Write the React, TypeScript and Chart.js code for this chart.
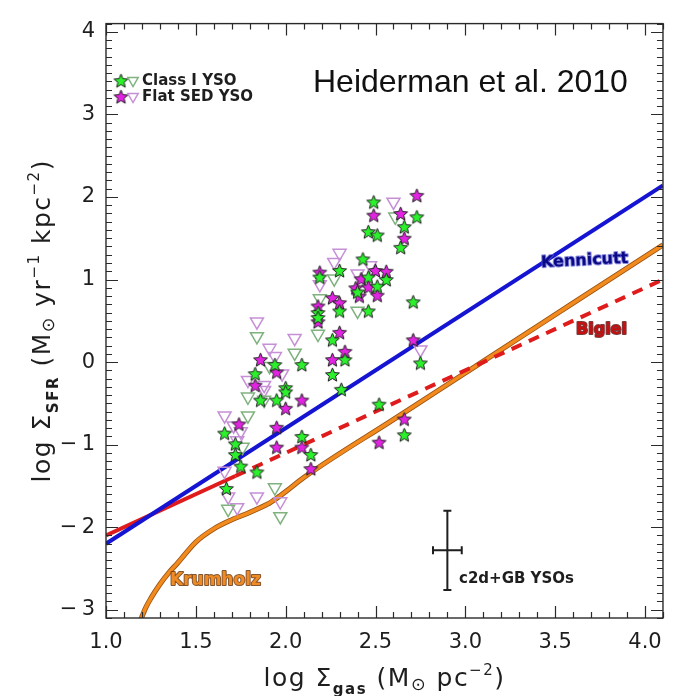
import React, { useEffect, useRef } from "react";
import { Chart, registerables } from "chart.js";

Chart.register(...registerables);

// ---------------- data ----------------
const classIStarX = [2.49, 2.46, 2.51, 2.43, 2.56, 2.46, 2.51, 2.40, 2.46, 2.19, 2.30, 2.30, 2.18, 2.18, 2.26, 1.94, 2.09, 2.33, 2.73, 2.66, 2.64, 2.71, 2.75, 1.83, 2.00, 2.00, 2.26, 2.31, 1.86, 1.95, 1.66, 1.72, 1.72, 1.75, 2.09, 2.14, 1.84, 1.67, 2.52, 2.66];
const classIStarY = [1.94, 1.58, 1.54, 1.25, 1.00, 1.03, 0.92, 0.85, 0.62, 1.03, 1.11, 0.62, 0.60, 0.54, 0.27, -0.03, -0.03, 0.03, 1.76, 1.64, 1.39, 0.73, -0.01, -0.14, -0.31, -0.36, -0.15, -0.33, -0.46, -0.46, -0.86, -0.99, -1.12, -1.26, -0.90, -1.12, -1.33, -1.53, -0.51, -0.88];

const classITriX = [2.61, 2.40, 2.27, 2.19, 2.18, 1.84, 2.05, 1.91, 1.79, 1.88, 1.79, 1.76, 1.94, 1.97, 1.68];
const classITriY = [1.76, 0.62, 1.01, 0.77, 0.34, 0.31, 0.11, -0.05, -0.42, -0.46, -0.65, -1.03, -1.52, -1.87, -1.78];

const flatStarX = [2.49, 2.50, 2.56, 2.42, 2.46, 2.39, 2.41, 2.51, 2.19, 2.26, 2.30, 2.18, 2.18, 2.30, 1.86, 2.26, 2.33, 2.73, 2.64, 2.66, 2.71, 1.83, 1.95, 2.00, 2.09, 1.74, 1.95, 1.95, 2.09, 2.14, 2.52, 2.66];
const flatStarY = [1.78, 1.11, 1.10, 1.01, 0.91, 0.90, 0.80, 0.81, 1.09, 0.78, 0.72, 0.68, 0.49, 0.36, 0.03, 0.03, 0.13, 2.02, 1.80, 1.50, 0.27, -0.28, -0.12, -0.56, -0.46, -0.75, -0.79, -1.03, -1.03, -1.29, -0.97, -0.69];

const flatTriX = [2.60, 2.30, 2.27, 2.47, 2.40, 2.19, 1.84, 2.05, 1.91, 1.94, 2.75, 1.79, 1.88, 1.88, 1.98, 1.66, 1.71, 1.75, 1.73, 1.66, 1.68, 1.84, 1.97, 1.73];
const flatTriY = [1.94, 1.32, 1.21, 1.17, 1.07, 0.94, 0.49, 0.29, 0.17, 0.07, 0.15, -0.22, -0.28, -0.34, -0.14, -0.65, -0.77, -0.84, -0.95, -1.32, -1.63, -1.63, -1.69, -1.76];

const kennicuttX = [1.0, 4.1];
const kennicuttY = [-2.2, 2.14];
const bigielSolidX = [1.0, 1.72];
const bigielSolidY = [-2.1, -1.38];
const bigielDashX = [1.72, 4.1];
const bigielDashY = [-1.38, 1.0];
const krumholzX = [1.19, 1.22, 1.25, 1.3, 1.35, 1.4, 1.5, 1.6, 1.7, 1.8, 1.9, 1.95, 2.0, 2.1, 2.6, 3.1, 3.6, 4.1];
const krumholzY = [-3.14, -2.98, -2.86, -2.69, -2.55, -2.43, -2.18, -2.02, -1.91, -1.82, -1.72, -1.65, -1.57, -1.40, -0.695, 0.01, 0.715, 1.42];

// representative error bar (c2d+GB YSOs)
const errBarX = 2.9;
const errBarY = -2.28;
const errBarDx = 0.08;
const errBarDy = 0.48;

const xRange = [1.0, 4.1];
const yRange = [-3.1, 4.1];

const zip = (xs: number[], ys: number[]) => xs.map((x, i) => ({ x, y: ys[i] }));

function makeStar(fill: string, R = 7.3) {
  const size = Math.ceil(R * 2 + 4);
  const c = document.createElement("canvas");
  c.width = size;
  c.height = size;
  const ctx = c.getContext("2d")!;
  const cx = size / 2;
  const cy = size / 2 + R * 0.1;
  ctx.beginPath();
  for (let i = 0; i < 10; i++) {
    const r = i % 2 === 0 ? R : R * 0.45;
    const a = -Math.PI / 2 + (i * Math.PI) / 5;
    ctx.lineTo(cx + r * Math.cos(a), cy + r * Math.sin(a));
  }
  ctx.closePath();
  ctx.fillStyle = fill;
  ctx.fill();
  ctx.lineWidth = 1;
  ctx.strokeStyle = "#1e1e1e";
  ctx.stroke();
  return c;
}

type Run = { t: string; size: number; dy?: number; bold?: boolean };
const FONT = "'DejaVu Sans', sans-serif";

function setFont(ctx: CanvasRenderingContext2D, r: Run) {
  ctx.font = `${r.bold ? "bold " : ""}${r.size}px ${FONT}`;
}
function runsWidth(ctx: CanvasRenderingContext2D, runs: Run[]) {
  let w = 0;
  for (const r of runs) {
    setFont(ctx, r);
    w += ctx.measureText(r.t).width;
  }
  return w;
}
function drawRuns(ctx: CanvasRenderingContext2D, runs: Run[], cx: number, baseline: number) {
  let x = cx - runsWidth(ctx, runs) / 2;
  ctx.textAlign = "left";
  ctx.textBaseline = "alphabetic";
  for (const r of runs) {
    setFont(ctx, r);
    ctx.fillText(r.t, x, baseline + (r.dy || 0));
    x += ctx.measureText(r.t).width;
  }
}
function outlined(ctx: CanvasRenderingContext2D, text: string, x: number, y: number, fill: string, stroke: string, lw: number) {
  ctx.lineJoin = "round";
  ctx.lineWidth = lw;
  ctx.strokeStyle = stroke;
  ctx.strokeText(text, x, y);
  ctx.fillStyle = fill;
  ctx.fillText(text, x, y);
}

export default function App() {
  const ref = useRef<HTMLCanvasElement>(null);

  useEffect(() => {
    document.body.style.margin = "0";
    const canvas = ref.current!;
    const greenStar = makeStar("#2cf02c");
    const magentaStar = makeStar("#e224e2");
    const greenTri = "#7fb27f";
    const pinkTri = "#c690d6";

    const overlay = {
      id: "overlay",
      afterDraw(chart: any) {
        const ctx: CanvasRenderingContext2D = chart.ctx;
        const xs = chart.scales.x;
        const ys = chart.scales.y;
        const { left, right, top, bottom } = chart.chartArea;
        ctx.save();

        // error bar
        const ex = xs.getPixelForValue(errBarX);
        const ey = ys.getPixelForValue(errBarY);
        const eyT = ys.getPixelForValue(errBarY + errBarDy);
        const eyB = ys.getPixelForValue(errBarY - errBarDy);
        const exL = xs.getPixelForValue(errBarX - errBarDx);
        const exR = xs.getPixelForValue(errBarX + errBarDx);
        ctx.strokeStyle = "#1e1e1e";
        ctx.lineWidth = 2;
        ctx.beginPath();
        ctx.moveTo(ex, eyT); ctx.lineTo(ex, eyB);
        ctx.moveTo(ex - 4, eyT); ctx.lineTo(ex + 4, eyT);
        ctx.moveTo(ex - 4, eyB); ctx.lineTo(ex + 4, eyB);
        ctx.moveTo(exL, ey); ctx.lineTo(exR, ey);
        ctx.moveTo(exL, ey - 4); ctx.lineTo(exL, ey + 4);
        ctx.moveTo(exR, ey - 4); ctx.lineTo(exR, ey + 4);
        ctx.stroke();

        // frame
        ctx.strokeStyle = "#2a2a2a";
        ctx.lineWidth = 1.4;
        ctx.strokeRect(left, top, right - left, bottom - top);
        ctx.lineWidth = 1.2;
        ctx.beginPath();
        for (let i = 0; i <= 31; i++) {
          const v = xRange[0] + i * 0.1;
          const px = Math.round(xs.getPixelForValue(v)) + 0.5;
          const L = i % 5 === 0 ? 12 : 6;
          ctx.moveTo(px, bottom); ctx.lineTo(px, bottom - L);
          ctx.moveTo(px, top); ctx.lineTo(px, top + L);
        }
        for (let i = 0; i <= 72; i++) {
          const v = yRange[0] + i * 0.1;
          const py = Math.round(ys.getPixelForValue(v)) + 0.5;
          const major = Math.round(v * 10) % 10 === 0;
          const L = major ? 12 : 6;
          ctx.moveTo(left, py); ctx.lineTo(left + L, py);
          ctx.moveTo(right, py); ctx.lineTo(right - L, py);
        }
        ctx.stroke();

        // axis titles
        ctx.fillStyle = "#1e1e1e";
        (ctx as any).letterSpacing = "1.5px";
        const F = 25;
        const xTitle: Run[] = [
          { t: "log Σ", size: F },
          { t: "gas", size: F * 0.6, dy: F * 0.3, bold: true },
          { t: " (M", size: F },
          { t: "⊙", size: F * 0.7, dy: F * 0.15 },
          { t: " pc", size: F },
          { t: "−2", size: F * 0.6, dy: -F * 0.45 },
          { t: ")", size: F },
        ];
        drawRuns(ctx, xTitle, (left + right) / 2, 686);
        const yTitle: Run[] = [
          { t: "log Σ", size: F },
          { t: "SFR", size: F * 0.6, dy: F * 0.3, bold: true },
          { t: " (M", size: F },
          { t: "⊙", size: F * 0.7, dy: F * 0.15 },
          { t: " yr", size: F },
          { t: "−1", size: F * 0.6, dy: -F * 0.45 },
          { t: " kpc", size: F },
          { t: "−2", size: F * 0.6, dy: -F * 0.45 },
          { t: ")", size: F },
        ];
        ctx.save();
        ctx.translate(50, (top + bottom) / 2);
        ctx.rotate(-Math.PI / 2);
        drawRuns(ctx, yTitle, 0, 0);
        ctx.restore();
        (ctx as any).letterSpacing = "0px";

        // legend
        const lx = left + 15;
        const ly1 = top + 57;
        const ly2 = top + 73;
        ctx.drawImage(greenStar, lx - greenStar.width / 2, ly1 - greenStar.height / 2);
        ctx.drawImage(magentaStar, lx - magentaStar.width / 2, ly2 - magentaStar.height / 2);
        const tri = (cx: number, cy: number, col: string) => {
          const r = 6;
          ctx.beginPath();
          ctx.moveTo(cx - r * 0.866, cy - r * 0.5);
          ctx.lineTo(cx + r * 0.866, cy - r * 0.5);
          ctx.lineTo(cx, cy + r);
          ctx.closePath();
          ctx.strokeStyle = col;
          ctx.lineWidth = 1.5;
          ctx.stroke();
        };
        tri(lx + 12, ly1, greenTri);
        tri(lx + 12, ly2, pinkTri);
        ctx.fillStyle = "#1e1e1e";
        ctx.font = `bold 15px ${FONT}`;
        ctx.textAlign = "left";
        ctx.textBaseline = "middle";
        ctx.fillText("Class I YSO", lx + 21, ly1 + 1);
        ctx.fillText("Flat SED YSO", lx + 21, ly2 + 1);

        // title text
        ctx.font = "32px 'Liberation Sans', Arial, sans-serif";
        ctx.fillStyle = "#111";
        ctx.textBaseline = "middle";
        ctx.fillText("Heiderman et al. 2010", 313, 83);

        // line labels
        ctx.font = `bold 16px ${FONT}`;
        ctx.textBaseline = "middle";
        ctx.save();
        ctx.translate(541, 263);
        ctx.rotate(-0.05);
        outlined(ctx, "Kennicutt", 0, 0, "#0a0a86", "rgba(90,90,210,0.7)", 2);
        ctx.restore();
        outlined(ctx, "Bigiel", 576, 330, "#c41010", "rgba(90,10,10,0.8)", 2);
        ctx.font = `bold 17px ${FONT}`;
        outlined(ctx, "Krumholz", 170, 581, "#f08a24", "rgba(110,55,10,0.85)", 2);

        ctx.font = `bold 15px ${FONT}`;
        ctx.fillStyle = "#1e1e1e";
        ctx.fillText("c2d+GB YSOs", 459, 579);

        ctx.restore();
      },
    };

    const chart = new Chart(canvas, {
      type: "scatter",
      data: {
        datasets: [
          { label: "Class I YSO", data: zip(classIStarX, classIStarY), pointStyle: greenStar as any, pointRadius: 7, order: 1 },
          { label: "Flat SED YSO", data: zip(flatStarX, flatStarY), pointStyle: magentaStar as any, pointRadius: 7, order: 1 },
          { label: "Class I YSO limits", data: zip(classITriX, classITriY), pointStyle: "triangle", pointRotation: 180, pointRadius: 7.5, borderColor: greenTri, backgroundColor: "rgba(0,0,0,0)", pointBorderWidth: 1.5, order: 2 },
          { label: "Flat SED YSO limits", data: zip(flatTriX, flatTriY), pointStyle: "triangle", pointRotation: 180, pointRadius: 7.5, borderColor: pinkTri, backgroundColor: "rgba(0,0,0,0)", pointBorderWidth: 1.5, order: 2 },
          { label: "Kennicutt", data: zip(kennicuttX, kennicuttY), showLine: true, pointRadius: 0, borderColor: "#1414d2", borderWidth: 4, order: 5 },
          { label: "Bigiel", data: zip(bigielSolidX, bigielSolidY), showLine: true, pointRadius: 0, borderColor: "#e01b1b", borderWidth: 4, order: 6 },
          { label: "Bigiel extrapolated", data: zip(bigielDashX, bigielDashY), showLine: true, pointRadius: 0, borderColor: "#e01b1b", borderWidth: 4, borderDash: [11, 8], order: 6 },
          { label: "Krumholz", data: zip(krumholzX, krumholzY), showLine: true, pointRadius: 0, borderColor: "#f28a1e", borderWidth: 3.5, cubicInterpolationMode: "monotone", order: 7 },
          { label: "Krumholz edge", data: zip(krumholzX, krumholzY), showLine: true, pointRadius: 0, borderColor: "#9a5414", borderWidth: 5.2, cubicInterpolationMode: "monotone", order: 8 },
        ] as any,
      },
      options: {
        responsive: false,
        animation: false,
        devicePixelRatio: 1,
        layout: { padding: { top: 6, right: 5, left: 0, bottom: 0 } },
        plugins: { legend: { display: false }, tooltip: { enabled: false } },
        scales: {
          x: {
            type: "linear",
            min: xRange[0],
            max: xRange[1],
            afterFit: (s: any) => { s.height = 78; },
            grid: { display: false, drawTicks: false },
            border: { display: false },
            ticks: {
              stepSize: 0.5,
              includeBounds: false,
              autoSkip: false,
              maxRotation: 0,
              padding: 12,
              color: "#1e1e1e",
              font: { family: "'DejaVu Sans'", size: 21 },
              callback: (v: any) => Number(v).toFixed(1),
            },
          },
          y: {
            type: "linear",
            min: yRange[0],
            max: yRange[1],
            afterFit: (s: any) => { s.width = 106; },
            grid: { display: false, drawTicks: false },
            border: { display: false },
            ticks: {
              stepSize: 1,
              includeBounds: false,
              autoSkip: false,
              padding: 11,
              color: "#1e1e1e",
              font: { family: "'DejaVu Sans'", size: 21 },
              callback: (v: any) => (Number(v) < 0 ? "\u2212\u2009" + Math.abs(Number(v)) : String(v)),
            },
          },
        },
      } as any,
      plugins: [overlay],
    });
    return () => chart.destroy();
  }, []);

  return (
    <div style={{ width: 674, height: 696 }}>
      <canvas ref={ref} width={674} height={696} style={{ display: "block" }} />
    </div>
  );
}
